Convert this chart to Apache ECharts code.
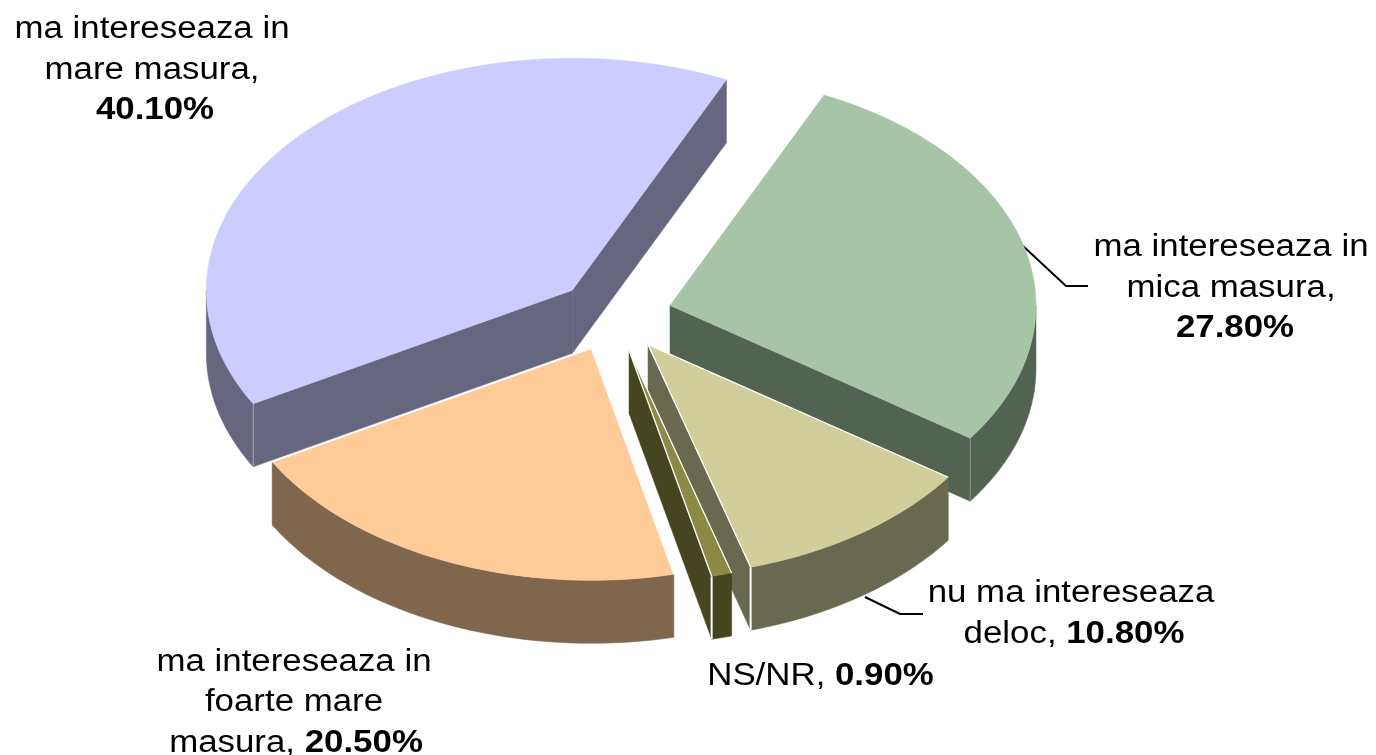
<!DOCTYPE html>
<html><head><meta charset="utf-8">
<style>html,body{margin:0;padding:0;background:#fff}#c{width:1376px;height:755px}</style>
<script src="https://cdn.jsdelivr.net/npm/echarts@6/dist/echarts.min.js"></script>
</head><body><div id="c"></div>
<script>
// clockwise from the first slice's start angle
var categories = ['ma intereseaza in\nmica masura,\n', 'nu ma intereseaza\ndeloc, ', 'NS/NR, ', 'ma intereseaza in\nfoarte mare\nmasura, ', 'ma intereseaza in\nmare masura,\n'];
var seriesValues = [27.8, 10.8, 0.9, 20.5, 40.1];
var topColors = ['#A6C4A6', '#D0CF9B', '#8A8A45', '#FFCC99', '#CCCCFF'];
var sideColors = ['#526352', '#69694F', '#454520', '#80664D', '#666680'];

var pie = {cx: 614.5, cy: 315, rx: 366, ry: 232, depth: 63, explode: 0.157, startDeg: 24.9};
var cornerLine = [{o: .3, w: 1}, {o: 1, w: 2}, {o: 1, w: 2}, null, {o: .4, w: 1}];
var whiteEdge = [false, true, true, true, false];
var font = {size: 31, stretch: 1.124, family: '"Liberation Sans", Arial, sans-serif', lineGap: 40.5};
var labelAnchors = [[1231, 258], [1071, 604], [820, 687], [294, 672.5], [152, 40]];
var lastLineShift = [4, 3, 0.5, 2, 3];
var leaders = [[[1023, 246], [1066, 286], [1088, 286]], [[865, 597], [900, 614], [923, 614]], null, null, null];

var total = seriesValues.reduce(function (a, b) { return a + b; }, 0);
var RAD = Math.PI / 180;

function renderItem(params, api) {
  var i = params.dataIndex, v = api.value(0), before = 0;
  for (var k = 0; k < i; k++) before += seriesValues[k];
  var a0 = pie.startDeg + before / total * 360, a1 = a0 + v / total * 360, mid = (a0 + a1) / 2;
  var ax = pie.cx + pie.explode * pie.rx * Math.sin(mid * RAD);
  var ay = pie.cy - pie.explode * pie.ry * Math.cos(mid * RAD);
  function rim(a) { return [ax + pie.rx * Math.sin(a * RAD), ay - pie.ry * Math.cos(a * RAD)]; }
  var z = Math.round(ay);
  var els = [], top = [[ax, ay]], n = Math.max(2, Math.ceil((a1 - a0) / 1.5));
  for (var s = 0; s <= n; s++) top.push(rim(a0 + (a1 - a0) * s / n));

  function down(p) { return [p[0], p[1] + pie.depth]; }
  function wall(p) { els.push({type: 'polygon', z2: z, shape: {points: p}, style: {fill: sideColors[i], stroke: sideColors[i], lineWidth: .5}}); }
  // outer front wall
  var lo = Math.max(a0, 90), hi = Math.min(a1, 270);
  if (hi > lo) {
    var upper = [], lower = [], m = Math.ceil((hi - lo) / 1.5);
    for (var t = 0; t <= m; t++) { var p = rim(lo + (hi - lo) * t / m); upper.push(p); lower.unshift(down(p)); }
    wall(upper.concat(lower));
  }
  // radial walls that face the viewer
  var apex = [ax, ay];
  var wallAngles = [];
  if (Math.cos((a0 - 90) * RAD) < 0) wallAngles.push(a0);
  if (Math.cos((a1 + 90) * RAD) < 0) wallAngles.push(a1);
  wallAngles.forEach(function (a) {
    var r = rim(a);
    wall([apex, r, down(r), down(apex)]);
    var norm = ((a % 360) + 360) % 360;
    if (cornerLine[i] && norm > 90 && norm < 270) {
      els.push({type: 'polyline', z2: z, shape: {points: [r, down(r)]}, style: {fill: null, stroke: '#fff', opacity: cornerLine[i].o, lineWidth: cornerLine[i].w}});
    }
  });
  // top face
  els.push({type: 'polygon', z2: z, shape: {points: top}, style: {fill: topColors[i], stroke: topColors[i], lineWidth: .5}});
  if (whiteEdge[i]) {
    els.push({type: 'polyline', z2: z, shape: {points: [rim(a0), apex, rim(a1)]}, style: {fill: null, stroke: '#fff', lineWidth: 1.3}});
  }

  // leader
  if (leaders[i]) els.push({type: 'polyline', z2: 200, shape: {points: leaders[i]}, style: {fill: null, stroke: '#000', lineWidth: 2}});

  // label
  var lines = categories[i].split('\n'), pct = v.toFixed(2) + '%';
  lines.forEach(function (line, j) {
    var last = j === lines.length - 1;
    els.push({
      type: 'text', z2: 201,
      x: labelAnchors[i][0] + (last ? lastLineShift[i] : 0), y: labelAnchors[i][1] + j * font.lineGap - font.size * 0.34, scaleX: font.stretch,
      style: {
        text: (line ? '{r|' + line + '}' : '') + (last ? '{b|' + pct + '}' : ''),
        align: 'center', verticalAlign: 'middle',
        rich: {
          r: {fontFamily: font.family, fontSize: font.size, fill: '#000', fontWeight: 'normal'},
          b: {fontFamily: font.family, fontSize: font.size, fill: '#000', fontWeight: 'bold'}
        }
      }
    });
  });
  return {type: 'group', children: els};
}

var chart = echarts.init(document.getElementById('c'), null, {renderer: 'canvas'});
chart.setOption({
  animation: false,
  backgroundColor: '#fff',
  series: [{
    type: 'custom',
    coordinateSystem: 'none',
    renderItem: renderItem,
    clip: false,
    data: seriesValues.map(function (v, i) { return {name: categories[i], value: [v]}; })
  }]
});
</script></body></html>
